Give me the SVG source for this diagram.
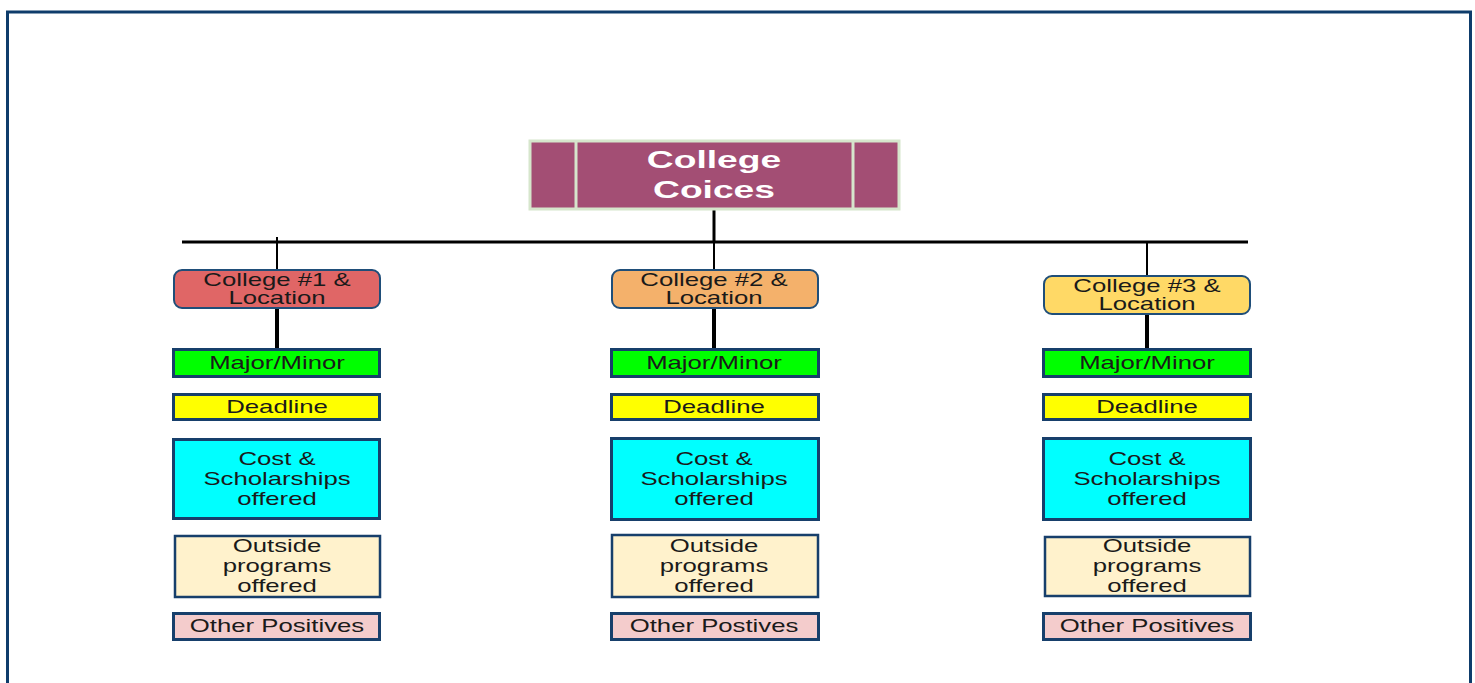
<svg xmlns="http://www.w3.org/2000/svg" width="1475" height="683" viewBox="0 0 1475 683">
<style>
text{font-family:"Liberation Sans",Arial,sans-serif;font-size:18px;fill:#1a1a1a;text-anchor:middle}
.title{font-size:24px;font-weight:bold;fill:#ffffff}
.col{stroke:#1f4e79;stroke-width:2}
.box{stroke:#173f6b;stroke-width:3}
.box2{stroke:#173f6b;stroke-width:2.5}
.thin{stroke:#000;stroke-width:2;fill:none}
.thick{stroke:#000;stroke-width:4;fill:none}
</style>
<rect x="0" y="0" width="1475" height="683" fill="#ffffff"/>
<rect x="7.5" y="12" width="1463" height="700" fill="none" stroke="#0e3c6b" stroke-width="3"/>
<g id="connectors">
<line x1="182" y1="242" x2="1248" y2="242" stroke="#000" stroke-width="3"/>
<line class="thin" x1="714" y1="210" x2="714" y2="242" style="stroke-width:3"/>
<line class="thin" x1="277" y1="237" x2="277" y2="270"/>
<line class="thin" x1="714" y1="242" x2="714" y2="270"/>
<line class="thin" x1="1147" y1="243" x2="1147" y2="276"/>
<line class="thick" x1="277" y1="308" x2="277" y2="348"/>
<line class="thick" x1="714" y1="308" x2="714" y2="348"/>
<line class="thick" x1="1147" y1="314" x2="1147" y2="348"/>
</g>
<g id="title">
<rect x="530" y="141" width="369" height="68" fill="#a34e74" stroke="#d6e6cc" stroke-width="3"/>
<line x1="576" y1="141" x2="576" y2="209" stroke="#d6e6cc" stroke-width="3"/>
<line x1="853" y1="141" x2="853" y2="209" stroke="#d6e6cc" stroke-width="3"/>
<g transform="matrix(1.55,0,0,1,714,0)">
<text class="title" x="0" y="168">College</text>
<text class="title" x="0" y="198">Coices</text>
</g>
</g>
<g id="college1">
<rect class="col" x="174" y="270" width="206" height="38" rx="8" fill="#e06666"/>
<g transform="matrix(1.43,0,0,1,277,0)"><text x="0" y="286">College #1 &amp;</text><text x="0" y="304">Location</text></g>
</g>
<g id="college2">
<rect class="col" x="612" y="270" width="206" height="38" rx="8" fill="#f4b16b"/>
<g transform="matrix(1.43,0,0,1,714,0)"><text x="0" y="286">College #2 &amp;</text><text x="0" y="304">Location</text></g>
</g>
<g id="college3">
<rect class="col" x="1044" y="276" width="206" height="38" rx="8" fill="#ffd966"/>
<g transform="matrix(1.43,0,0,1,1147,0)"><text x="0" y="292">College #3 &amp;</text><text x="0" y="310">Location</text></g>
</g>
<g id="major1"><rect class="box" x="173.5" y="349.5" width="206" height="27" fill="#00ff00"/><g transform="matrix(1.43,0,0,1,277,0)"><text x="0" y="369">Major/Minor</text></g></g>
<g id="major2"><rect class="box" x="611.5" y="349.5" width="207" height="27" fill="#00ff00"/><g transform="matrix(1.43,0,0,1,714,0)"><text x="0" y="369">Major/Minor</text></g></g>
<g id="major3"><rect class="box" x="1043.5" y="349.5" width="207" height="27" fill="#00ff00"/><g transform="matrix(1.43,0,0,1,1147,0)"><text x="0" y="369">Major/Minor</text></g></g>
<g id="deadline1"><rect class="box" x="173.5" y="394.5" width="206" height="25" fill="#ffff00"/><g transform="matrix(1.43,0,0,1,277,0)"><text x="0" y="413">Deadline</text></g></g>
<g id="deadline2"><rect class="box" x="611.5" y="394.5" width="207" height="25" fill="#ffff00"/><g transform="matrix(1.43,0,0,1,714,0)"><text x="0" y="413">Deadline</text></g></g>
<g id="deadline3"><rect class="box" x="1043.5" y="394.5" width="207" height="25" fill="#ffff00"/><g transform="matrix(1.43,0,0,1,1147,0)"><text x="0" y="413">Deadline</text></g></g>
<g id="cost1"><rect class="box" x="173.5" y="439.5" width="206" height="79" fill="#00ffff"/><g transform="matrix(1.43,0,0,1,277,0)"><text x="0" y="465">Cost &amp;</text><text x="0" y="485">Scholarships</text><text x="0" y="505">offered</text></g></g>
<g id="cost2"><rect class="box" x="611.5" y="438.5" width="207" height="81" fill="#00ffff"/><g transform="matrix(1.43,0,0,1,714,0)"><text x="0" y="465">Cost &amp;</text><text x="0" y="485">Scholarships</text><text x="0" y="505">offered</text></g></g>
<g id="cost3"><rect class="box" x="1043.5" y="438.5" width="207" height="81" fill="#00ffff"/><g transform="matrix(1.43,0,0,1,1147,0)"><text x="0" y="465">Cost &amp;</text><text x="0" y="485">Scholarships</text><text x="0" y="505">offered</text></g></g>
<g id="outside1"><rect class="box2" x="175" y="536" width="205" height="61" fill="#fff2cc"/><g transform="matrix(1.43,0,0,1,277,0)"><text x="0" y="552">Outside</text><text x="0" y="572">programs</text><text x="0" y="592">offered</text></g></g>
<g id="outside2"><rect class="box2" x="612" y="535" width="206" height="62" fill="#fff2cc"/><g transform="matrix(1.43,0,0,1,714,0)"><text x="0" y="552">Outside</text><text x="0" y="572">programs</text><text x="0" y="592">offered</text></g></g>
<g id="outside3"><rect class="box2" x="1045" y="537" width="205" height="59" fill="#fff2cc"/><g transform="matrix(1.43,0,0,1,1147,0)"><text x="0" y="552">Outside</text><text x="0" y="572">programs</text><text x="0" y="592">offered</text></g></g>
<g id="other1"><rect class="box" x="173.5" y="613.5" width="206" height="26" fill="#f4cccc"/><g transform="matrix(1.43,0,0,1,277,0)"><text x="0" y="632">Other Positives</text></g></g>
<g id="other2"><rect class="box" x="611.5" y="613.5" width="207" height="26" fill="#f4cccc"/><g transform="matrix(1.43,0,0,1,714,0)"><text x="0" y="632">Other Postives</text></g></g>
<g id="other3"><rect class="box" x="1043.5" y="613.5" width="207" height="26" fill="#f4cccc"/><g transform="matrix(1.43,0,0,1,1147,0)"><text x="0" y="632">Other Positives</text></g></g>
</svg>
